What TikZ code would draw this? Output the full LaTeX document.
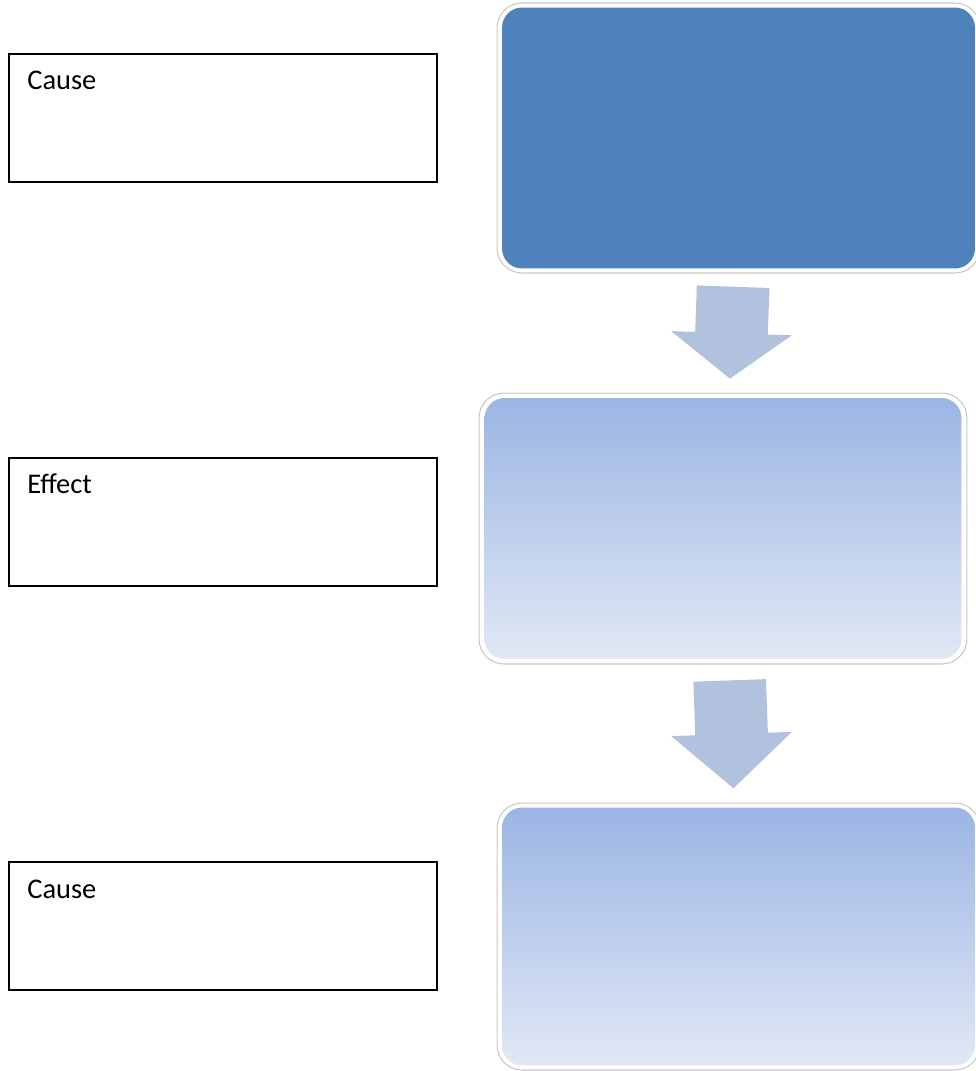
\documentclass[tikz,border=0pt]{standalone}
\usepackage{fontspec}
\setmainfont{Carlito}
\usetikzlibrary{shapes.arrows}
\definecolor{stepblue}{HTML}{4F81BD}
\definecolor{gradtop}{HTML}{9BB5E3}
\definecolor{gradbot}{HTML}{E1E8F5}
\definecolor{arrowblue}{HTML}{B0C2DE}
\definecolor{framegray}{HTML}{C8C8C8}

\begin{document}
\begin{tikzpicture}[x=0.02cm, y=-0.02cm,
	causebox/.style={draw=black, line width=1.1pt, minimum width=8.56cm, minimum height=2.56cm, inner sep=0pt, anchor=north west},
	boxtext/.style={anchor=base west, inner sep=0pt, font=\fontsize{16.2}{19}\selectfont},
	stepframe/.style={draw=framegray, line width=0.6pt, fill=white, rounded corners=0.5cm, inner sep=0pt},
	stepfill/.style={rounded corners=0.4cm, inner sep=0pt},
	downarrow/.style={single arrow, fill=arrowblue, inner xsep=0pt, inner ysep=0.72cm, single arrow head extend=0.48cm}]
	\useasboundingbox (0,0) rectangle (976,1071);

	% Left boxes with the labels
	\node[causebox] (cause1) at (8,53) {};
	\node[causebox] (effect) at (8,457) {};
	\node[causebox] (cause2) at (8,861) {};
	\node[boxtext] (cause1txt) at ([xshift=0.38cm, yshift=-0.74cm]cause1.north west) {Cause};
	\node[boxtext] (effecttxt) at ([xshift=0.38cm, yshift=-0.74cm]effect.north west) {Effect};
	\node[boxtext] (cause2txt) at ([xshift=0.38cm, yshift=-0.74cm]cause2.north west) {Cause};

	% Right column of rounded boxes
	\node[stepframe, minimum width=9.66cm, minimum height=5.4cm] (frame1) at (738.5,138) {};
	\node[stepfill, fill=stepblue, minimum width=9.46cm, minimum height=5.22cm] (step1) at (frame1.center) {};
	\node[stepframe, minimum width=9.76cm, minimum height=5.42cm] (frame2) at (723,528.5) {};
	\node[stepfill, top color=gradtop, bottom color=gradbot, minimum width=9.54cm, minimum height=5.22cm] (step2) at (frame2.center) {};
	\node[stepframe, minimum width=9.66cm, minimum height=5.34cm] (frame3) at (738.5,936.5) {};
	\node[stepfill, top color=gradtop, bottom color=gradbot, minimum width=9.46cm, minimum height=5.16cm] (step3) at (frame3.center) {};

	% Block arrows between the boxes
	\node[downarrow, minimum height=1.84cm, single arrow tip angle=106, rotate=-92] (arr1) at (732,319) {};
	\node[downarrow, minimum height=2.16cm, single arrow tip angle=96, rotate=-88] (arr2) at (731,718) {};
\end{tikzpicture}
\end{document}
